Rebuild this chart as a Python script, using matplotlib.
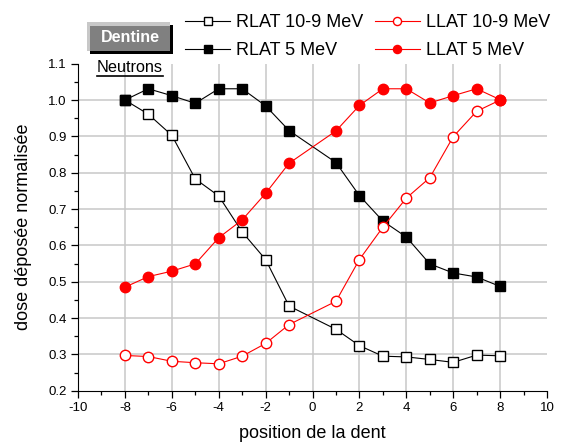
import matplotlib
matplotlib.use("Agg")
import matplotlib.pyplot as plt
from matplotlib.patches import Rectangle
from matplotlib.lines import Line2D
from matplotlib.ticker import MultipleLocator, FormatStrFormatter

plt.rcParams['font.family'] = ['Liberation Sans', 'DejaVu Sans']
plt.rcParams['axes.unicode_minus'] = False

# tooth positions (no measurement at 0)
positions = [-8, -7, -6, -5, -4, -3, -2, -1, 1, 2, 3, 4, 5, 6, 7, 8]

rlat_10_9 = [1.000, 0.961, 0.903, 0.783, 0.736, 0.637, 0.561, 0.433,
             0.369, 0.324, 0.295, 0.293, 0.286, 0.278, 0.298, 0.296]
llat_10_9 = [0.297, 0.294, 0.281, 0.277, 0.274, 0.295, 0.330, 0.382,
             0.446, 0.561, 0.650, 0.730, 0.786, 0.899, 0.969, 1.000]
rlat_5 = [1.000, 1.031, 1.012, 0.991, 1.031, 1.031, 0.984, 0.916,
          0.828, 0.737, 0.667, 0.623, 0.549, 0.524, 0.513, 0.487]
llat_5 = [0.485, 0.514, 0.529, 0.549, 0.621, 0.670, 0.743, 0.826,
          0.915, 0.985, 1.031, 1.031, 0.992, 1.012, 1.031, 1.001]

labels = ["RLAT 10-9 MeV", "RLAT 5 MeV", "LLAT 10-9 MeV", "LLAT 5 MeV"]

W, H = 565, 446
fig = plt.figure(figsize=(W / 100, H / 100), dpi=100)
ax = fig.add_axes([78 / W, 1 - 390.7 / H, (547 - 78) / W, (390.7 - 63.7) / H])

ax.set_xlim(-10, 10)
ax.set_ylim(0.2, 1.1)

# interior grid lines
for gx in range(-8, 10, 2):
    ax.axvline(gx, color='#c8c8c8', lw=1.1, zorder=0)
for gy in [0.3, 0.4, 0.5, 0.6, 0.7, 0.8, 0.9, 1.0]:
    ax.axhline(gy, color='#c8c8c8', lw=1.1, zorder=0)

red = '#ff0000'
l1, = ax.plot(positions, rlat_10_9, color='black', lw=0.8, marker='s', ms=6.5,
              mfc='white', mec='black', mew=1.0, zorder=3)
l2, = ax.plot(positions, rlat_5, color='black', lw=0.8, marker='s', ms=7,
              mfc='black', mec='black', zorder=3)
l3, = ax.plot(positions, llat_10_9, color=red, lw=0.8, marker='o', ms=7.5,
              mfc='white', mec=red, mew=1.0, zorder=3)
l4, = ax.plot(positions, llat_5, color=red, lw=0.8, marker='o', ms=7.5,
              mfc=red, mec=red, zorder=3)

for s in ['top', 'right']:
    ax.spines[s].set_visible(False)
ax.xaxis.set_major_locator(MultipleLocator(2))
ax.xaxis.set_minor_locator(MultipleLocator(1))
ax.yaxis.set_major_locator(MultipleLocator(0.1))
ax.yaxis.set_minor_locator(MultipleLocator(0.05))
ax.tick_params(which='major', direction='out', length=5, width=0.9, labelsize=9.5, pad=3)
ax.tick_params(which='minor', direction='out', length=3, width=0.9)
ax.yaxis.set_major_formatter(FormatStrFormatter('%.1f'))

ax.set_xlabel("position de la dent", fontsize=13, labelpad=8)
ax.set_ylabel("dose déposée normalisée", fontsize=13, labelpad=12)

fig.legend([l1, l2, l3, l4], labels, loc='upper left',
           bbox_to_anchor=(185 / W, 1 - 14 / H), ncol=2, frameon=False,
           fontsize=13, handlelength=2.5, handletextpad=0.35,
           columnspacing=0.6, labelspacing=0.6, borderpad=0,
           borderaxespad=0, numpoints=1, markerscale=0.78)


def fx(px):
    return px / W


def fy(py):
    return 1 - py / H


# "Dentine" label button
fig.patches.append(Rectangle((fx(90), fy(54)), fx(172.6) - fx(90), fy(25.5) - fy(54),
                             transform=fig.transFigure, facecolor='black',
                             edgecolor='none'))
fig.patches.append(Rectangle((fx(86.6), fy(50.5)), fx(169.7) - fx(86.6), fy(22.4) - fy(50.5),
                             transform=fig.transFigure, facecolor='#c8c8c8',
                             edgecolor='none'))
fig.patches.append(Rectangle((fx(90), fy(50.5)), fx(169.7) - fx(90), fy(25.5) - fy(50.5),
                             transform=fig.transFigure, facecolor='#808080',
                             edgecolor='none'))
fig.text(fx(130), fy(38), "Dentine", color='white', fontweight='bold',
         fontsize=11.5, ha='center', va='center')

# underlined "Neutrons"
fig.text(fx(97), fy(72.5), "Neutrons", fontsize=11.7, ha='left', va='baseline')
fig.lines.append(Line2D([fx(97), fx(163)], [fy(75.7), fy(75.7)],
                        transform=fig.transFigure, color='black', lw=1.2))

fig.savefig("out.png", dpi=100)
